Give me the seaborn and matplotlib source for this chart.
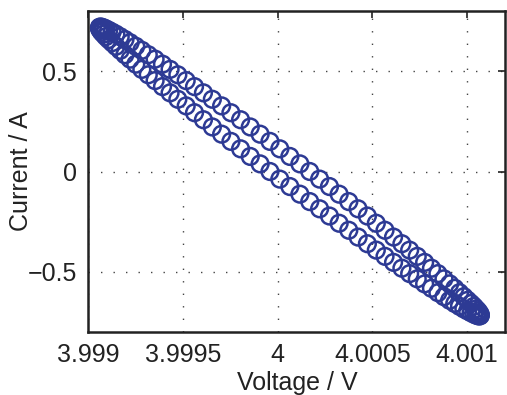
import matplotlib
matplotlib.use("Agg")
import matplotlib.pyplot as plt
import seaborn as sns
import pandas as pd

# Voltage offsets from 4 V, in microvolts
voltage_offset_uV = [
    1070, 1069, 1064, 1058, 1048, 1036, 1021, 1003, 983, 960, 935, 908, 878, 846, 812, 776,
    737, 697, 656, 612, 567, 521, 474, 425, 376, 325, 274, 222, 170, 118, 65,
    12, -40, -92, -144, -195, -246, -295, -344, -391, -438, -482, -526, -567, -607, -646,
    -682, -716, -748, -778, -805, -830, -853, -873, -891, -906, -918, -928, -934, -939, -940,
    -939, -934, -928, -918, -906, -891, -873, -853, -830, -805, -778, -748, -716, -682, -646,
    -607, -567, -526, -482, -438, -391, -344, -295, -246, -195, -144, -92, -40, 12, 65,
    118, 170, 222, 274, 325, 376, 425, 474, 521, 567, 612, 656, 697, 737, 776, 812, 846,
    878, 908, 935, 960, 983, 1003, 1021, 1036, 1048, 1058, 1064, 1069,
]

current_A = [
    -0.716, -0.719,
    -0.720, -0.719, -0.716, -0.711, -0.704, -0.695, -0.685, -0.672, -0.658, -0.642, -0.624,
    -0.604, -0.582, -0.560, -0.535, -0.509, -0.482, -0.453, -0.423, -0.392, -0.360, -0.327,
    -0.293, -0.258, -0.222, -0.186, -0.150, -0.113, -0.075, -0.038, 0.000,
    0.038, 0.075, 0.113, 0.150, 0.186, 0.222, 0.258, 0.293, 0.327, 0.360, 0.392, 0.423, 0.453,
    0.482, 0.509, 0.535, 0.560, 0.582, 0.604, 0.624, 0.642, 0.658, 0.672, 0.685, 0.695, 0.704,
    0.711, 0.716, 0.719, 0.720,
    0.719, 0.716, 0.711, 0.704, 0.695, 0.685, 0.672, 0.658, 0.642, 0.624, 0.604, 0.582, 0.560,
    0.535, 0.509, 0.482, 0.453, 0.423, 0.392, 0.360, 0.327, 0.293, 0.258, 0.222, 0.186, 0.150,
    0.113, 0.075, 0.038, 0.000,
    -0.038, -0.075, -0.113, -0.150, -0.186, -0.222, -0.258, -0.293, -0.327, -0.360, -0.392,
    -0.423, -0.453, -0.482, -0.509, -0.535, -0.560, -0.582, -0.604, -0.624, -0.642, -0.658,
    -0.672, -0.685, -0.695, -0.704, -0.711,
]

x_ticks = [3.999, 3.9995, 4.0, 4.0005, 4.001]
x_tick_labels = ["3.999", "3.9995", "4", "4.0005", "4.001"]
y_ticks = [-0.5, 0, 0.5]
y_tick_labels = ["\u22120.5", "0", "0.5"]

voltage_V = [4.0 + v * 1e-6 for v in voltage_offset_uV]
df = pd.DataFrame({"Voltage": voltage_V, "Current": current_A})

sns.set_style("white")
plt.rcParams["font.family"] = ["Liberation Sans", "DejaVu Sans"]

fig = plt.figure(figsize=(5.07, 3.95), dpi=100)
ax = fig.add_axes([88 / 507, 63 / 395, 417 / 507, 321 / 395])

ax.grid(True, color="#444444", linestyle=(0, (1, 8)), linewidth=1.0)
ax.set_axisbelow(True)

sns.scatterplot(data=df, x="Voltage", y="Current", ax=ax, marker="o", s=145,
                facecolors="none", edgecolor="#2D3A94", linewidth=1.8, legend=False)

ax.set_xlim(3.999, 4.0012)
ax.set_ylim(-0.8, 0.8)
ax.set_xticks(x_ticks)
ax.set_xticklabels(x_tick_labels)
ax.set_yticks(y_ticks)
ax.set_yticklabels(y_tick_labels)
ax.tick_params(direction="in", length=5, width=1.2, top=True, right=True,
               labelsize=18, pad=8, colors="#222222")
for s in ax.spines.values():
    s.set_visible(True)
    s.set_color("#222222")
    s.set_linewidth(1.8)

ax.set_xlabel("Voltage / V", fontsize=18, color="#222222", va="center")
ax.set_ylabel("Current / A", fontsize=18, color="#222222", va="center")
ax.xaxis.set_label_coords((297 - 88) / 417, -(383 - 332) / 321)
ax.yaxis.set_label_coords(-(88 - 21) / 417, 0.5)

fig.savefig("out.png", dpi=100)
